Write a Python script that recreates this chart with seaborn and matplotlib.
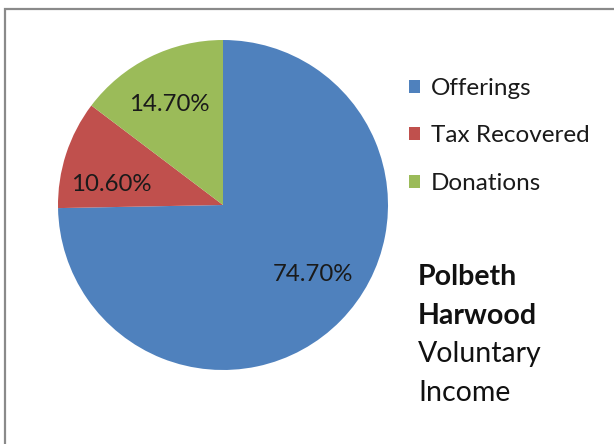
import matplotlib
matplotlib.use("Agg")
import matplotlib.pyplot as plt
import numpy as np
import seaborn as sns
from matplotlib.patches import Rectangle

# data
categories = ["Offerings", "Tax Recovered", "Donations"]
shares = [74.7, 10.6, 14.7]
colors = ["#4F81BD", "#C0504D", "#9BBB59"]
title_bold = ["Polbeth", "Harwood"]
title_plain = ["Voluntary", "Income"]

sns.set_style("white")
plt.rcParams["font.family"] = ["Lato", "DejaVu Sans"]

fig = plt.figure(figsize=(6.14, 4.44), dpi=100)
ax = fig.add_axes([58 / 614, 1 - 370 / 444, 330 / 614, 330 / 444])

wedges, texts, autotexts = ax.pie(
    shares, colors=colors, startangle=90, counterclock=False,
    autopct="%.2f%%", pctdistance=0.69, radius=1.0,
    wedgeprops=dict(linewidth=0), textprops=dict(fontsize=17.3, color="#1a1a1a"))

# nudge labels a little off the wedge middle, like Excel's best fit
for w, t, dth in zip(wedges, autotexts, [7, 7.5, 1.5]):
    ang = np.deg2rad((w.theta1 + w.theta2) / 2 + dth)
    t.set_position((0.69 * np.cos(ang), 0.69 * np.sin(ang)))

ax.set_xlim(-1, 1)
ax.set_ylim(-1, 1)
ax.set_aspect("equal")
ax.axis("off")

leg = fig.legend(wedges, categories, loc="upper left",
                 bbox_to_anchor=(409 / 614, 1 - 78 / 444), frameon=False,
                 fontsize=17.5, handlelength=0.45, handleheight=0.45,
                 handletextpad=0.45, labelspacing=1.09, borderpad=0,
                 borderaxespad=0)
for t in leg.get_texts():
    t.set_color("#1a1a1a")

lines = [(t, "bold") for t in title_bold] + [(t, "normal") for t in title_plain]
for i, (txt, w) in enumerate(lines):
    fig.text(418 / 614, 1 - (277 + i * 38.5) / 444, txt, fontsize=20.5,
             fontweight=w, va="center", ha="left", color="#111111")

fig.patches.append(Rectangle((5 / 614, -0.05), 1.1, 1 - 9 / 444 + 0.05,
                             transform=fig.transFigure, fill=False,
                             edgecolor="#8a8a8a", linewidth=1.6))

fig.savefig("out.png", dpi=100)
